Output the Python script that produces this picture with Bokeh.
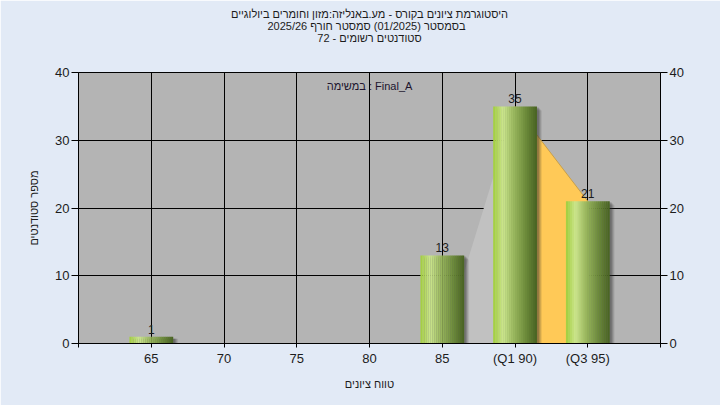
import math
from bokeh.plotting import figure
from bokeh.models import (ColumnDataSource, Range1d, FixedTicker, LinearAxis, Label, Title)
from bokeh.core.properties import value
from bokeh.embed import file_html
from bokeh.resources import INLINE

# ---------------- data ----------------
categories = ["65", "70", "75", "80", "85", "(Q1 90)", "(Q3 95)"]
counts = [1, 0, 0, 0, 13, 35, 21]
y_ticks = [0, 10, 20, 30, 40]
lead_area_idx = [4, 5]
lead_area_vals = [0, 35]
iqr_area_idx = [5, 6]
iqr_area_vals = [35, 21]

title_lines = [
    "היסטוגרמת ציונים בקורס - מע.באנליזה:מזון וחומרים ביולוגיים",
    "בסמסטר  (01/2025)  סמסטר חורף 2025/26",
    "סטודנטים רשומים - 72",
]
legend_text = "במשימה : Final_A"
x_label = "טווח ציונים"
y_label = "מספר סטודנטים"

FONT = "Liberation Sans"
TXT = "#1c1c1c"

X0, X1, Y0, Y1 = -1, 7, 0, 40
FL, FR, FT, FB = 78, 660, 72, 343          # frame edges in pixels
W, H = 720, 405

p = figure(width=W, height=H, output_backend="svg", toolbar_location=None,
           x_range=Range1d(X0, X1), y_range=Range1d(Y0, Y1),
           min_border_left=FL, min_border_right=W - FR, min_border_top=FT, min_border_bottom=H - FB)
p.border_fill_color = "#e2eaf6"
p.background_fill_color = "#b4b4b4"
p.outline_line_color = "black"
p.outline_line_width = 1

# title lines, one Title each (nearest to the frame first), a blank spacer below them
p.add_layout(Title(text=" ", standoff=16, text_font_size="11px"), "above")
for t in reversed(title_lines):
    p.add_layout(Title(text=t, align="center", text_font=FONT, text_font_size="11px",
                       text_font_style="normal", text_color=TXT, offset=-8, standoff=-2), "above")

# grids
p.xgrid.grid_line_color = "black"
p.ygrid.grid_line_color = "black"

# x axis
n = len(categories)
xt = list(range(-1, n + 1))
p.xaxis.ticker = FixedTicker(ticks=xt)
overrides = {i: categories[i] for i in range(n)}
overrides[-1] = ""
overrides[n] = ""
p.xaxis.major_label_overrides = overrides
p.xgrid.ticker = FixedTicker(ticks=list(range(n)))
p.xaxis.minor_tick_line_color = None
p.xaxis.major_tick_out = 4
p.xaxis.major_tick_in = 0
p.xaxis.major_label_standoff = 3
p.xaxis.axis_label = x_label
p.xaxis.axis_label_standoff = 9

# y axis
p.yaxis.ticker = FixedTicker(ticks=y_ticks)
p.ygrid.ticker = FixedTicker(ticks=y_ticks)
p.yaxis.minor_tick_line_color = None
p.yaxis.major_tick_out = 7
p.yaxis.major_tick_in = 0
p.yaxis.major_label_standoff = 2
p.yaxis.axis_label = y_label
p.yaxis.axis_label_standoff = 12

ry = LinearAxis(ticker=FixedTicker(ticks=y_ticks))
ry.minor_tick_line_color = None
ry.major_tick_out = 7
ry.major_tick_in = 0
ry.major_label_standoff = 2
p.add_layout(ry, "right")

for ax in p.axis:
    ax.axis_line_color = "black"
    ax.major_tick_line_color = "black"
    ax.major_label_text_font = FONT
    ax.major_label_text_font_size = "13px"
    ax.major_label_text_color = TXT
    ax.axis_label_text_font = FONT
    ax.axis_label_text_font_size = "11px"
    ax.axis_label_text_font_style = "normal"
    ax.axis_label_text_color = TXT

# areas
p.varea(x=lead_area_idx, y1=[0] * len(lead_area_idx), y2=lead_area_vals, fill_color="#c1c1c1")
p.varea(x=iqr_area_idx, y1=[0] * len(iqr_area_idx), y2=iqr_area_vals, fill_color="#ffc957")
p.line(x=iqr_area_idx, y=iqr_area_vals, line_color="#c9a04a", line_width=1)

# bars
bw = 0.6
px = (X1 - X0) / (FR - FL)    # one pixel in x units
py = (Y1 - Y0) / (FB - FT)    # one pixel in y units

bar_idx = [i for i in range(n) if counts[i] > 0]
bar_vals = [counts[i] for i in bar_idx]

# soft shadow
for k, a in enumerate([0.10, 0.14, 0.18, 0.22]):
    off = (5 - k) * px
    sh = ColumnDataSource(dict(
        left=[i - bw / 2 + 3 * px for i in bar_idx],
        right=[i + bw / 2 + off for i in bar_idx],
        top=[v - (4 - k) * py if v > 1 else v - 2 * py for v in bar_vals],
        bottom=[-1 for _ in bar_idx]))
    p.quad(left="left", right="right", top="top", bottom="bottom", source=sh,
           fill_color="#2a2a2a", fill_alpha=a, line_color=None)

# gradient stops (position, rgb)
stops = [(0.0, (160, 206, 60)), (0.22, (204, 230, 142)), (0.45, (156, 186, 96)),
         (0.75, (108, 138, 58)), (1.0, (72, 98, 34))]


def grad(t):
    for (t0, c0), (t1, c1) in zip(stops[:-1], stops[1:]):
        if t0 <= t <= t1:
            f = (t - t0) / (t1 - t0)
            return "#%02x%02x%02x" % tuple(int(round(c0[j] + f * (c1[j] - c0[j]))) for j in range(3))
    return "#%02x%02x%02x" % stops[-1][1]


NS = 22
L, R, T, C = [], [], [], []
for i, v in zip(bar_idx, bar_vals):
    for s in range(NS):
        L.append(i - bw / 2 + bw * s / NS)
        R.append(i - bw / 2 + bw * (s + 1) / NS + 0.002)
        T.append(v)
        C.append(grad((s + 0.5) / NS))
p.quad(left=L, right=R, top=T, bottom=0, fill_color=C, line_color=None)

# value labels
lab_src = ColumnDataSource(dict(x=bar_idx, y=bar_vals, t=[str(v) for v in bar_vals]))
p.text(x="x", y="y", text="t", source=lab_src, text_align="center", text_baseline="bottom",
       y_offset=-3, text_font=value(FONT), text_font_size="12px", text_color=TXT)

# legend-like caption
p.add_layout(Label(x=3, y=38, text=legend_text, text_align="center", text_baseline="middle",
                   text_font=FONT, text_font_size="11px", text_color="#20142e"))

open("out.html", "w").write(file_html(p, INLINE))
